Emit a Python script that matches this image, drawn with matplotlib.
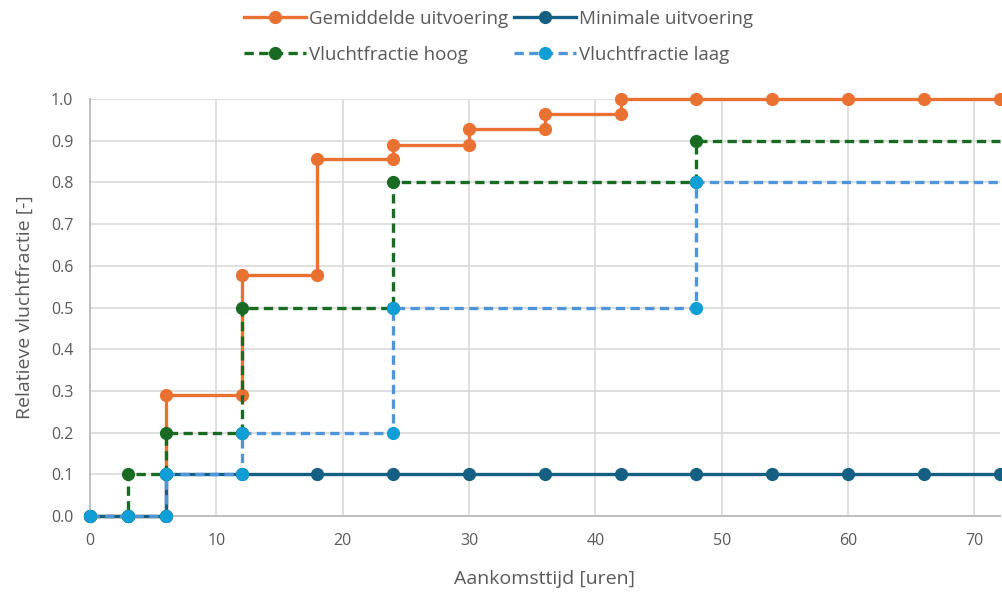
import matplotlib.pyplot as plt

# aankomsttijd (uren) en relatieve vluchtfractie per scenario
x_gem = [0, 3, 6, 6, 12, 12, 18, 18, 24, 24, 30, 30, 36, 36, 42, 42, 48, 54, 60, 66, 72]
y_gem = [0, 0, 0, 0.29, 0.29, 0.577, 0.577, 0.856, 0.856, 0.89, 0.89, 0.928, 0.928,
         0.964, 0.964, 1.0, 1.0, 1.0, 1.0, 1.0, 1.0]

x_min = [0, 3, 6, 6, 12, 18, 24, 30, 36, 42, 48, 54, 60, 66, 72]
y_min = [0, 0, 0, 0.1, 0.1, 0.1, 0.1, 0.1, 0.1, 0.1, 0.1, 0.1, 0.1, 0.1, 0.1]

x_hoog = [0, 3, 3, 6, 6, 12, 12, 24, 24, 48, 48, 72]
y_hoog = [0, 0, 0.1, 0.1, 0.2, 0.2, 0.5, 0.5, 0.8, 0.8, 0.9, 0.9]

x_laag = [0, 3, 6, 6, 12, 12, 24, 24, 48, 48, 72]
y_laag = [0, 0, 0, 0.1, 0.1, 0.2, 0.2, 0.5, 0.5, 0.8, 0.8]

plt.rcParams['font.family'] = ['Open Sans', 'DejaVu Sans']

fig = plt.figure(figsize=(10.03, 5.94), dpi=100)
ax = fig.add_axes([0.0897, 0.1313, 0.907, 0.702])

lw = 2.4
ms = 8.5
dash = (0, (2.8, 1.6))
l_gem, = ax.plot(x_gem, y_gem, color='#E97132', lw=lw, marker='o', ms=ms, zorder=3,
                 clip_on=False, label='Gemiddelde uitvoering')
l_min, = ax.plot(x_min, y_min, color='#156082', lw=lw, marker='o', ms=ms, zorder=4,
                 clip_on=False, label='Minimale uitvoering')
# de scenario's lopen door na 72 uur: geen marker op de rand
l_hoog, = ax.plot(x_hoog, y_hoog, color='#196B24', lw=lw, ls=dash, marker='o', ms=ms,
                  markevery=list(range(len(x_hoog) - 1)), zorder=5, clip_on=False,
                  label='Vluchtfractie hoog')
l_laag, = ax.plot(x_laag, y_laag, color='#4E95D9', lw=lw, ls=dash, marker='o', ms=ms,
                  mfc='#0F9ED5', mec='#0F9ED5', markevery=list(range(len(x_laag) - 1)),
                  zorder=6, clip_on=False, label='Vluchtfractie laag')

ax.set_xlim(0, 72)
ax.set_ylim(0, 1.0)
ax.set_xticks(range(0, 71, 10))
ax.set_yticks([i / 10 for i in range(11)])
ax.yaxis.set_major_formatter(plt.FormatStrFormatter('%.1f'))
ax.grid(True, color='#d9d9d9', lw=1.2, zorder=0)
ax.set_axisbelow(True)
for side in ['top', 'right']:
    ax.spines[side].set_visible(False)
for side in ['left', 'bottom']:
    ax.spines[side].set_color('#bfbfbf')
    ax.spines[side].set_linewidth(1.4)
ax.tick_params(axis='x', length=0, labelsize=11.5, labelcolor='#595959', pad=12)
ax.tick_params(axis='y', length=0, labelsize=11.5, labelcolor='#595959', pad=12)

ax.set_xlabel('Aankomsttijd [uren]', fontsize=14, color='#595959', labelpad=15)
ax.set_ylabel('Relatieve vluchtfractie [-]', fontsize=14, color='#595959', labelpad=12)

# legenda: rij 1 gemiddeld/minimaal, rij 2 hoog/laag
leg = fig.legend(handles=[l_gem, l_hoog, l_min, l_laag], loc='center',
                 bbox_to_anchor=(0.497, 0.938), ncol=2, frameon=False,
                 fontsize=13.5, labelcolor='#595959', handlelength=3.3, handletextpad=0.15,
                 columnspacing=0.3, labelspacing=0.95)
for h in leg.legend_handles:
    h.set_markevery([1])

fig.savefig('out.png', dpi=100)
